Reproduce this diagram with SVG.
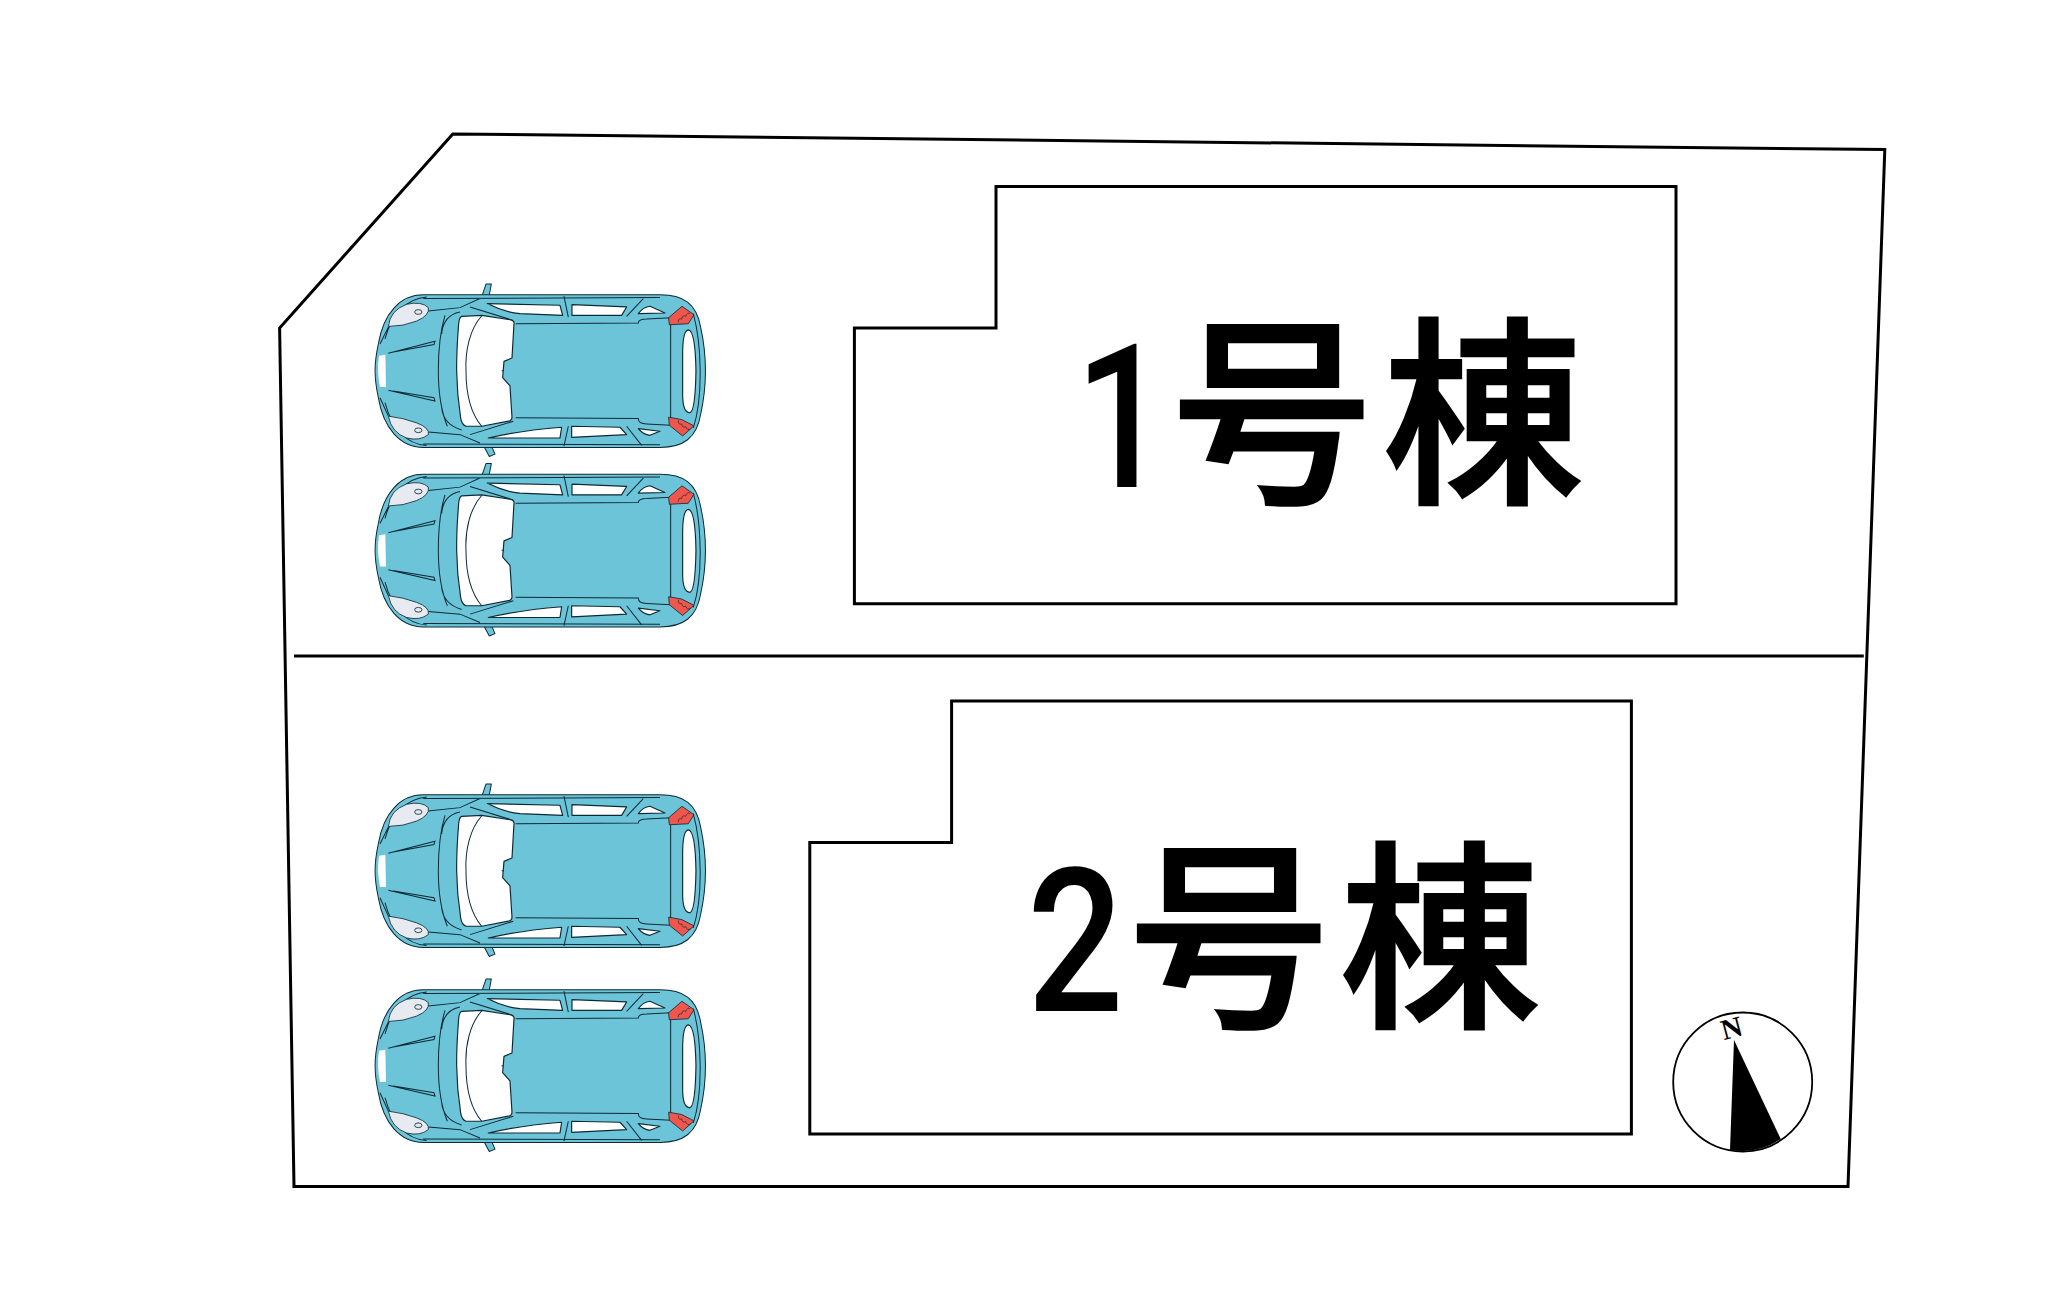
<svg xmlns="http://www.w3.org/2000/svg" width="2058" height="1306" viewBox="0 0 2058 1306">
<style>
.ln{fill:none;stroke:#000;stroke-width:3}
.lab{font-family:"Noto Sans CJK JP",sans-serif;font-size:201px;font-weight:500;fill:#000;stroke:#000;stroke-width:2.5;letter-spacing:10px}
.dg{font-family:Roboto,sans-serif;font-size:200px;font-weight:500;fill:#000}
.b{fill:#6cc4d8;stroke:#0c2a36;stroke-width:3;stroke-linejoin:round}
.w{fill:#fff;stroke:#0c2a36;stroke-width:3.5;stroke-linejoin:round}
.r{fill:#f0564c;stroke:#0c2a36;stroke-width:2.5;stroke-linejoin:round}
.h{fill:#e7eaf0;stroke:#0c2a36;stroke-width:2.5}
.l{fill:none;stroke:#0c2a36;stroke-width:3}
</style>
<defs>
<symbol id="car" overflow="visible">
<g transform="scale(.3333,.336)">
<path class="b" d="M378,42 L394,42 L382,105 L358,100 Z"/>
<path class="b" d="M358,500 L382,495 L405,548 L388,555 Z"/>
<path class="b" d="M190,74 L900,74 C970,74 1010,100 1022,170 C1042,260 1042,340 1022,430 C1010,500 970,528 900,528 L190,528 C120,528 70,470 55,380 C42,320 42,280 55,220 C70,130 120,74 190,74 Z"/>
<path class="l" d="M75,205 C95,130 140,85 200,80 M75,395 C95,470 140,520 200,522 M190,85 L900,82 M190,518 L900,520 M60,220 L85,170 M60,380 L85,435 M1000,130 C1025,220 1030,380 1000,470 M205,122 L300,112 L360,85 M205,482 L300,490 L360,515"/>
<path class="w" d="M305,138 L365,135 L450,148 Q464,151 462,160 L456,262 L432,272 L428,320 L450,345 L456,438 Q456,448 445,450 L365,465 L318,465 Q305,460 302,440 C286,340 288,260 296,160 Q298,140 305,138 Z"/>
<path class="l" d="M365,137 C330,175 315,240 318,300 C318,370 335,430 365,465 M255,135 Q235,200 235,300 Q235,400 262,465 M300,125 Q250,135 245,190 M305,476 Q250,460 245,410 M425,300 L432,300"/>
<path class="l" d="M467,160 L835,158 Q835,146 860,146 L932,142 L932,462 L860,458 Q835,458 835,442 L467,440 M330,110 L460,150 M330,490 L460,450 M612,78 L625,140 M625,465 L612,524 M850,85 L800,138 M800,465 L845,522"/>
<path class="w" d="M382,100 L600,105 L608,135 L480,130 Q430,125 382,100 Z"/>
<path class="w" d="M636,103 L800,110 L785,135 L636,135 Z"/>
<path class="w" d="M835,130 Q850,110 870,108 L915,128 Z"/>
<path class="w" d="M385,500 Q480,478 605,468 L600,500 Z"/>
<path class="w" d="M635,465 L780,468 L800,490 L635,498 Z"/>
<path class="w" d="M835,472 L900,480 L870,492 Q850,490 835,472 Z"/>
<path class="w" d="M985,178 Q968,180 968,250 L968,370 Q968,425 990,425 Q1006,420 1008,300 Q1006,180 985,178 Z"/>
<path class="r" d="M966,108 L1002,133 L985,160 L928,163 L926,142 Z"/>
<path class="r" d="M926,438 L965,445 L1002,464 L968,494 L928,462 Z"/>
<path d="M955,155 Q955,142 965,146 Q968,132 977,138 Q982,125 990,130 M955,448 Q955,462 965,458 Q968,472 977,466 Q982,480 992,472" fill="none" stroke="#0c2a36" stroke-width="2"/>
<path class="h" d="M85,168 Q90,120 140,102 Q185,92 205,112 Q210,135 170,152 Q130,168 85,168 Z"/>
<path class="h" d="M85,435 Q130,440 170,455 Q210,470 205,490 Q180,510 140,500 Q95,485 85,435 Z"/>
<ellipse class="h" cx="175" cy="125" rx="11" ry="7"/>
<ellipse class="h" cx="175" cy="477" rx="11" ry="7"/>
<path class="w" d="M57,255 L76,252 L78,348 L60,348 Q50,300 57,255 Z" style="stroke:none"/>
<path class="l" d="M85,248 L225,212 L222,222 L100,244 M85,358 L225,390 L222,380 L100,360"/>
</g>
</symbol>
</defs>
<rect width="2058" height="1306" fill="#fff"/>
<g id="site"><path class="ln" d="M452.8,133.9 L1884.8,149.6 L1848,1186.5 L294,1186.5 L279.6,328 Z"/></g>
<g id="divider"><path class="ln" d="M294,656 L1863.8,656"/></g>
<g id="house1"><path class="ln" d="M996,186.4 L1676,186.4 L1676,603.8 L854.4,603.8 L854.4,328 L996,328 Z"/>
<text class="dg" transform="translate(1075,487) scale(.82,1)">1</text><text class="lab" x="1171.5" y="488">号棟</text></g>
<g id="house2"><path class="ln" d="M951.6,701 L1631.4,701 L1631.4,1134 L809.8,1134 L809.8,842.6 L951.6,842.6 Z"/>
<text class="dg" transform="translate(1027,1011) scale(.85,1)">2</text><text class="lab" x="1128.5" y="1011.5">号棟</text></g>
<g id="car1"><use href="#car" x="360" y="270"/></g>
<g id="car2"><use href="#car" x="360" y="449.5"/></g>
<g id="car3"><use href="#car" x="360" y="770"/></g>
<g id="car4"><use href="#car" x="360" y="965"/></g>
<g id="compass"><circle cx="1742.7" cy="1082" r="69.5" fill="#fff" stroke="#000" stroke-width="1.8"/>
<path d="M1734,1040 L1780.7,1139 A69.5,69.5 0 0 1 1730,1150 Z" fill="#000"/>
<text x="1731.5" y="1038" transform="rotate(-15 1731.5 1028)" text-anchor="middle" font-family="Liberation Serif,serif" font-weight="bold" font-size="29">N</text></g>
</svg>
